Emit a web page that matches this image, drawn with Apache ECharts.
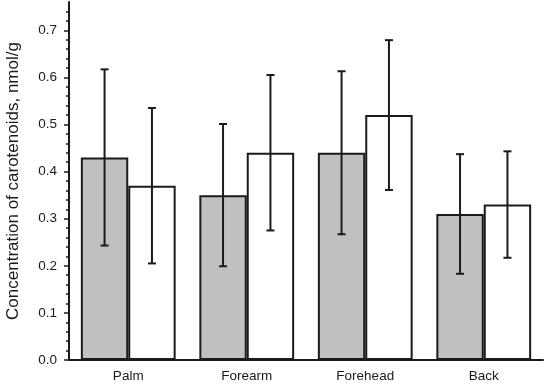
<!DOCTYPE html>
<html><head><meta charset="utf-8">
<script src="https://cdn.jsdelivr.net/npm/echarts@6/dist/echarts.min.js"></script>
<style>html,body{margin:0;padding:0;background:#fff}#c{width:550px;height:389px}</style>
</head><body><div id="c"></div>
<script>
const categories = ['Palm', 'Forearm', 'Forehead', 'Back'];
const grayValues = [0.43, 0.35, 0.44, 0.31];
const graySD = [0.187, 0.151, 0.173, 0.127];
const whiteValues = [0.37, 0.44, 0.52, 0.33];
const whiteSD = [0.165, 0.165, 0.159, 0.113];
const yTicks = [0.0, 0.1, 0.2, 0.3, 0.4, 0.5, 0.6, 0.7];
const yAxisTitle = 'Concentration of carotenoids, nmol/g';

const chart = echarts.init(document.getElementById('c'), null, {renderer: 'canvas'});
const FONT = 'Liberation Sans, Arial, sans-serif';

function errData(vals, sds) {
  return vals.map((v, i) => [i, v - sds[i], v + sds[i]]);
}
function errRender(side) {
  return function (params, api) {
    const idx = api.value(0);
    const lo = api.coord([idx, api.value(1)]);
    const hi = api.coord([idx, api.value(2)]);
    const catW = api.size([1, 0])[0];
    const x = lo[0] + side * catW * 0.2;
    const cap = 4;
    const style = {stroke: '#1a1a1a', lineWidth: 2};
    return {
      type: 'group',
      children: [
        {type: 'line', shape: {x1: x, y1: lo[1], x2: x, y2: hi[1]}, style},
        {type: 'line', shape: {x1: x - cap, y1: lo[1], x2: x + cap, y2: lo[1]}, style},
        {type: 'line', shape: {x1: x - cap, y1: hi[1], x2: x + cap, y2: hi[1]}, style}
      ]
    };
  };
}

chart.setOption({
  animation: false,
  backgroundColor: '#fff',
  grid: {left: 69, right: 7, top: 2, bottom: 29, containLabel: false, outerBoundsMode: 'none'},
  xAxis: {
    type: 'category',
    data: categories,
    boundaryGap: true,
    axisLine: {lineStyle: {color: '#1a1a1a', width: 2}},
    axisTick: {alignWithLabel: true, length: 5, lineStyle: {color: '#1a1a1a', width: 2}},
    axisLabel: {color: '#1a1a1a', fontSize: 13.5, fontFamily: FONT, margin: 9}
  },
  yAxis: {
    type: 'value',
    min: 0, max: 0.76, interval: 0.1,
    name: yAxisTitle,
    nameLocation: 'middle',
    nameGap: 47,
    nameTextStyle: {color: '#1a1a1a', fontSize: 17, fontFamily: FONT},
    axisLine: {show: true, lineStyle: {color: '#1a1a1a', width: 2}},
    axisTick: {show: true, length: 5, lineStyle: {color: '#1a1a1a', width: 1.5},
      customValues: yTicks},
    minorTick: {show: true, splitNumber: 5, length: 3, lineStyle: {color: '#1a1a1a', width: 1.5}},
    splitLine: {show: false},
    axisLabel: {color: '#1a1a1a', fontSize: 13.5, fontFamily: FONT, margin: 12,
      customValues: yTicks,
      formatter: v => v.toFixed(1)}
  },
  series: [
    {type: 'bar', data: grayValues, barGap: '0%', barWidth: '40%',
     itemStyle: {color: '#c0c0c0', borderColor: '#1a1a1a', borderWidth: 2}, z: 2},
    {type: 'bar', data: whiteValues, barGap: '0%', barWidth: '40%',
     itemStyle: {color: '#ffffff', borderColor: '#1a1a1a', borderWidth: 2}, z: 2},
    {type: 'custom', data: errData(grayValues, graySD), renderItem: errRender(-1), z: 5,
     encode: {x: 0, y: [1, 2]}},
    {type: 'custom', data: errData(whiteValues, whiteSD), renderItem: errRender(1), z: 5,
     encode: {x: 0, y: [1, 2]}}
  ]
});
</script></body></html>
